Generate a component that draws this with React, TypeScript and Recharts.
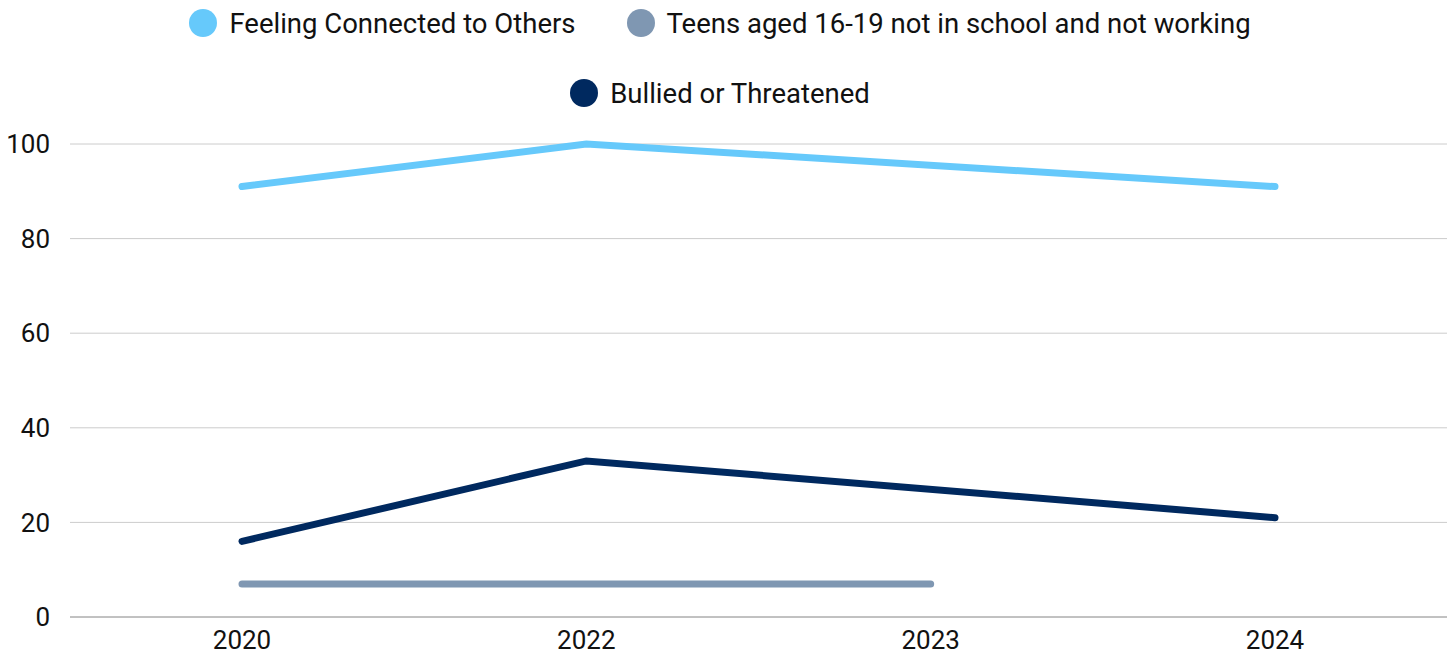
import React from 'react';
import {
  LineChart,
  Line,
  XAxis,
  YAxis,
  CartesianGrid,
  Legend,
} from 'recharts';

const years = ['2020', '2022', '2023', '2024'];
const connected = [91, 100, null, 91];
const teensIdle = [7, 7, 7, null];
const bullied = [16, 33, null, 21];
const yTicks = [0, 20, 40, 60, 80, 100];

const series = [
  { key: 'connected', name: 'Feeling Connected to Others', color: '#66C9FB' },
  { key: 'teens', name: 'Teens aged 16-19 not in school and not working', color: '#7F97B2' },
  { key: 'bullied', name: 'Bullied or Threatened', color: '#00295F' },
];

const data = years.map((year, i) => ({
  year,
  connected: connected[i],
  teens: teensIdle[i],
  bullied: bullied[i],
}));

function ChartLegend() {
  return (
    <div
      style={{
        height: 144,
        width: 1300,
        marginLeft: 70,
        display: 'flex',
        flexWrap: 'wrap',
        justifyContent: 'center',
        alignContent: 'flex-start',
        columnGap: 51,
        rowGap: 24,
      }}
    >
      {series.map((s) => (
        <div key={s.key} style={{ display: 'flex', alignItems: 'center', height: 46 }}>
          <span
            style={{
              width: 28,
              height: 28,
              borderRadius: '50%',
              background: s.color,
              marginRight: 12,
              display: 'inline-block',
            }}
          />
          <span style={{ fontSize: 27.5, color: '#111' }}>{s.name}</span>
        </div>
      ))}
    </div>
  );
}

export default function App() {
  return (
    <div
      style={{
        position: 'fixed',
        left: 0,
        top: 0,
        width: 1453,
        height: 656,
        overflow: 'hidden',
        fontFamily: 'Roboto, sans-serif',
        background: '#fff',
      }}
    >
      <LineChart
        width={1453}
        height={656}
        data={data}
        margin={{ top: 0, right: 6, bottom: 0, left: 0 }}
      >
        <Legend
          verticalAlign="top"
          align="left"
          content={() => <ChartLegend />}
          wrapperStyle={{ left: 0, top: 0 }}
        />
        <CartesianGrid vertical={false} stroke="#cccccc" />
        <XAxis
          dataKey="year"
          height={39}
          padding={{ left: 172, right: 172 }}
          tickLine={false}
          stroke="#9e9e9e"
          tick={{ fill: '#111', fontSize: 26 }}
          tickMargin={8}
        />
        <YAxis
          width={70}
          domain={[0, 100]}
          ticks={yTicks}
          axisLine={false}
          tickLine={false}
          tick={{ fill: '#111', fontSize: 26 }}
          tickMargin={14}
        />
        {series.map((s) => (
          <Line
            key={s.key}
            dataKey={s.key}
            name={s.name}
            stroke={s.color}
            strokeWidth={7}
            strokeLinecap="round"
            dot={false}
            activeDot={false}
            connectNulls
            type="linear"
            isAnimationActive={false}
          />
        ))}
      </LineChart>
    </div>
  );
}
